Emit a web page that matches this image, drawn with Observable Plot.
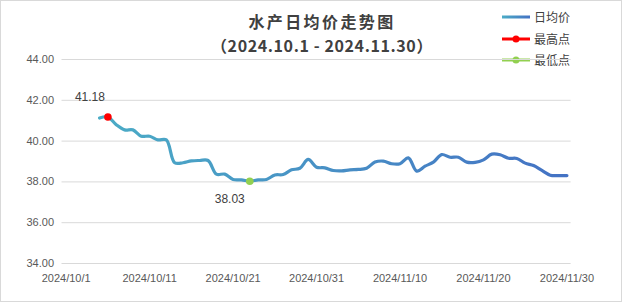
<!DOCTYPE html>
<html><head><meta charset="utf-8">
<script src="https://cdn.jsdelivr.net/npm/d3@7"></script>
<script src="https://cdn.jsdelivr.net/npm/@observablehq/plot@0.6"></script>
<style>
body{margin:0;background:#fff;}
#wrap{position:relative;width:620px;height:300px;border:1px solid #d9d9d9;background:#fff;overflow:hidden;font-family:"Noto Sans CJK SC","Noto Sans",sans-serif;}
#wrap svg.chart{position:absolute;left:0;top:0;}
.t{position:absolute;left:321px;transform:translateX(-50%);white-space:nowrap;font-weight:bold;color:#404040;font-size:16px;line-height:16px;height:16px;}
.lg{position:absolute;left:500px;height:16px;display:flex;align-items:center;font-size:12px;line-height:14px;color:#404040;}
.lg svg{margin-right:3px;}
</style></head>
<body>
<div id="wrap">
  <div class="t" style="top:12px;letter-spacing:2.4px">水产日均价走势图</div>
  <div class="t" style="top:35.5px;letter-spacing:0.6px">（2024.10.1 - 2024.11.30）</div>
  <div class="lg" style="top:8px"><svg width="30" height="10"><defs><linearGradient id="lgG" gradientUnits="userSpaceOnUse" x1="1" y1="0" x2="29" y2="0"><stop offset="0" stop-color="#4bacc6"/><stop offset="1" stop-color="#4472c4"/></linearGradient></defs><line x1="1" x2="29" y1="5" y2="5" stroke="url(#lgG)" stroke-width="3"/></svg>日均价</div>
  <div class="lg" style="top:30px"><svg width="30" height="10"><line x1="1" x2="29" y1="5" y2="5" stroke="#ff0000" stroke-width="3"/><circle cx="15" cy="5" r="3.5" fill="#ff0000"/></svg>最高点</div>
  <div class="lg" style="top:51px"><svg width="30" height="10"><line x1="1" x2="29" y1="5" y2="5" stroke="#92d050" stroke-width="3"/><circle cx="15" cy="5" r="3.5" fill="#92d050"/></svg>最低点</div>
</div>
<script>
// Categories: every day 2024-10-01 .. 2024-11-30
const startDay = new Date(Date.UTC(2024, 9, 1));
const endDay = new Date(Date.UTC(2024, 11, 1));
const fmt = d3.utcFormat("%Y/%-m/%-d");
const categories = d3.utcDay.range(startDay, endDay).map(fmt);
const xTickLabels = ["2024/10/1","2024/10/11","2024/10/21","2024/10/31","2024/11/10","2024/11/20","2024/11/30"];
const yTicks = [34, 36, 38, 40, 42, 44];
// daily average price (no data for Oct 1-4)
const prices = [null, null, null, null,
  41.13, 41.18, 40.80, 40.55, 40.55, 40.24, 40.24, 40.06, 40.06, 38.94,
  38.94, 39.03, 39.05, 39.05, 38.38, 38.38, 38.12, 38.10, 38.03, 38.10,
  38.12, 38.34, 38.36, 38.59, 38.67, 39.10, 38.72, 38.69, 38.56, 38.54,
  38.59, 38.61, 38.67, 38.97, 39.02, 38.89, 38.89, 39.18, 38.53, 38.77,
  38.97, 39.34, 39.21, 39.21, 38.97, 38.96, 39.08, 39.36, 39.33, 39.16,
  39.15, 38.92, 38.80, 38.56, 38.33, 38.31, 38.31];
const highPoint = {date: "2024/10/6", value: 41.18, label: "41.18"};
const lowPoint = {date: "2024/10/23", value: 38.03, label: "38.03"};

const idx = new Map(categories.map((c, i) => [c, i]));
const series = categories.map((c, i) => ({i, value: prices[i]})).filter(d => d.value != null);
const hi = [{...highPoint, i: idx.get(highPoint.date)}];
const lo = [{...lowPoint, i: idx.get(lowPoint.date)}];

const defs = () => {
  const g = d3.create("svg:defs");
  const lg = g.append("linearGradient").attr("id", "lineGrad");
  lg.append("stop").attr("offset", 0).attr("stop-color", "#4bacc6");
  lg.append("stop").attr("offset", 1).attr("stop-color", "#4472c4");
  return g.node();
};

const chart = Plot.plot({
  width: 620, height: 300,
  marginLeft: 60.5, marginRight: 50.4, marginTop: 58, marginBottom: 38,
  style: {fontFamily: "'Liberation Sans', Arial, sans-serif", fontSize: "11px", color: "#595959", background: "transparent"},
  x: {type: "linear", domain: [-0.5, categories.length - 0.5], label: null},
  y: {domain: [34, 44], label: null},
  marks: [
    defs,
    Plot.gridY(yTicks, {stroke: "#d9d9d9", strokeOpacity: 1, strokeWidth: 1}),
    Plot.axisY(yTicks, {tickSize: 0, tickPadding: 8, tickFormat: d3.format(".2f"), fill: "#595959", fontSize: 11}),
    Plot.axisX(xTickLabels.map(l => idx.get(l)), {tickSize: 0, tickPadding: 11, tickFormat: i => categories[i], fill: "#595959", fontSize: 11}),
    Plot.line(series, {x: "i", y: "value", stroke: "url(#lineGrad)", strokeWidth: 3.2, curve: "catmull-rom"}),
    Plot.dot(hi, {x: "i", y: "value", r: 3.8, fill: "#ff0000"}),
    Plot.dot(lo, {x: "i", y: "value", r: 3.8, fill: "#92d050"}),
    Plot.text(hi, {x: "i", y: "value", text: "label", dx: -18, dy: -20, fill: "#404040", fontSize: 12}),
    Plot.text(lo, {x: "i", y: "value", text: "label", dx: -20, dy: 18, fill: "#404040", fontSize: 12})
  ]
});
chart.classList.add("chart");
document.getElementById("wrap").appendChild(chart);
</script>
</body></html>
